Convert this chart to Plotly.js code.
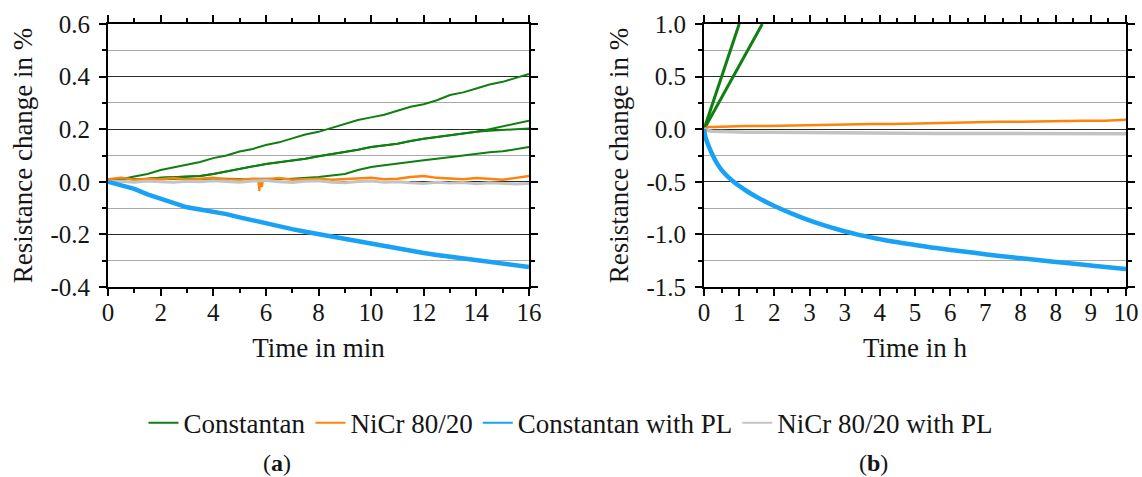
<!DOCTYPE html>
<html>
<head>
<meta charset="utf-8">
<script src="https://cdn.plot.ly/plotly-3.0.1.min.js"></script>
<style>html,body{margin:0;padding:0;background:#fff;}#chart{width:1142px;height:477px;}</style>
</head>
<body>
<div id="chart"></div>
<script>
// ---------- Panel (a): time in min ----------
const tA = [0,0.5,1,1.5,2,2.5,3,3.5,4,4.5,5,5.5,6,6.5,7,7.5,8,8.5,9,9.5,10,10.5,11,11.5,12,12.5,13,13.5,14,14.5,15,15.5,16];
const constA1 = [0.01,0.01,0.02,0.03,0.045,0.055,0.065,0.075,0.09,0.10,0.115,0.125,0.14,0.15,0.165,0.18,0.19,0.205,0.22,0.235,0.245,0.255,0.27,0.285,0.295,0.31,0.33,0.34,0.355,0.37,0.38,0.395,0.41];
const constA2 = [0.01,0.01,0.01,0.012,0.015,0.018,0.02,0.022,0.03,0.04,0.05,0.058,0.068,0.074,0.08,0.088,0.097,0.105,0.113,0.122,0.132,0.138,0.145,0.155,0.164,0.17,0.177,0.184,0.19,0.2,0.21,0.22,0.232];
const constA3 = [0.01,0.01,0.01,0.012,0.015,0.018,0.02,0.022,0.03,0.04,0.05,0.058,0.068,0.074,0.08,0.088,0.097,0.105,0.113,0.122,0.132,0.138,0.145,0.155,0.164,0.17,0.177,0.184,0.19,0.194,0.196,0.2,0.203];
const constA4 = [0.01,0.012,0.01,0.008,0.01,0.012,0.01,0.011,0.01,0.012,0.011,0.01,0.012,0.01,0.012,0.014,0.018,0.024,0.03,0.045,0.056,0.063,0.07,0.077,0.082,0.088,0.094,0.1,0.107,0.112,0.116,0.124,0.132];
const plA = [0,-0.012,-0.027,-0.048,-0.065,-0.08,-0.097,-0.105,-0.113,-0.123,-0.135,-0.147,-0.158,-0.168,-0.18,-0.19,-0.199,-0.208,-0.218,-0.228,-0.237,-0.246,-0.256,-0.263,-0.271,-0.278,-0.285,-0.29,-0.298,-0.305,-0.311,-0.317,-0.324];
const nicrA = [0.01,0.015,0.008,0.012,0.01,0.014,0.008,0.012,0.015,0.01,0.008,0.012,0.01,0.014,0.008,0.01,0.012,0.008,0.01,0.012,0.015,0.01,0.012,0.018,0.022,0.015,0.012,0.01,0.014,0.01,0.008,0.015,0.022];
const nicrSpikeX = [5.7,5.75,5.8,5.85,5.9];
const nicrSpikeY = [0.01,-0.035,0.005,-0.02,0.01];
const nicrPlA = [0,0.002,-0.002,0.003,0,-0.002,0.002,0,0.004,0.001,-0.002,0.003,0.005,0,-0.003,0.002,0.004,-0.002,-0.004,0.001,0.003,-0.002,0,-0.004,-0.006,-0.002,-0.005,-0.003,-0.007,-0.004,-0.006,-0.008,-0.006];
const yTickValsA = [-0.4,-0.2,0,0.2,0.4,0.6];
const yTickTextA = ["-0.4","-0.2","0.0","0.2","0.4","0.6"];

// ---------- Panel (b): time in h ----------
const tBg1 = [0,0.833];
const constB1 = [0,1.0];
const tBg2 = [0,1.38];
const constB2 = [0,1.0];
const tB = [0,0.03,0.07,0.14,0.22,0.3,0.46,0.7,1.0,1.25,1.64,2.04,2.43,2.83,3.22,3.62,4.17,4.4,5,5.5,6.1,6.7,7.3,7.96,8.6,9.27,10];
const plB = [0,-0.07,-0.12,-0.19,-0.26,-0.32,-0.41,-0.5,-0.585,-0.645,-0.725,-0.795,-0.857,-0.912,-0.958,-1.0,-1.045,-1.063,-1.1,-1.13,-1.16,-1.19,-1.218,-1.246,-1.272,-1.3,-1.33];
const tB2 = [0,0.1,0.2,0.5,1,1.5,2,2.5,3,3.5,4,4.5,5,5.5,6,6.5,7,7.5,8,8.5,9,9.5,10];
const nicrB = [0,0.02,0.02,0.025,0.03,0.03,0.035,0.035,0.04,0.045,0.05,0.05,0.055,0.06,0.06,0.065,0.07,0.07,0.075,0.075,0.08,0.08,0.09];
const nicrPlB = [0,-0.015,-0.02,-0.025,-0.03,-0.03,-0.032,-0.035,-0.035,-0.037,-0.038,-0.04,-0.04,-0.04,-0.04,-0.041,-0.042,-0.042,-0.042,-0.043,-0.043,-0.043,-0.044];
const xTickValsB = [0,50,100,150,200,250,300,350,400,450,500,550,600].map(m => m/60);
const xTickTextB = ["0","1","2","3","3","4","5","6","7","8","8","9","10"];
const yTickValsB = [-1.5,-1.0,-0.5,0,0.5,1.0];
const yTickTextB = ["-1.5","-1.0","-0.5","0.0","0.5","1.0"];

const seriesNames = ["Constantan","NiCr 80/20","Constantan with PL","NiCr 80/20 with PL"];
const seriesColors = ["#0f7f10","#ff820a","#19a2f5","#c3c3c3"];

function tr(x,y,ci,width,xa,ya,shape){
  return {x:x,y:y,type:"scatter",mode:"lines",name:seriesNames[ci],legendgroup:"g"+ci,showlegend:false,
    line:{color:seriesColors[ci],width:width,shape:shape||"linear",smoothing:0.8},xaxis:xa,yaxis:ya,hoverinfo:"skip"};
}
function legendEntry(ci){
  return {x:[null],y:[null],type:"scatter",mode:"lines",name:seriesNames[ci],legendgroup:"g"+ci,showlegend:true,
    line:{color:seriesColors[ci],width:2},xaxis:"x",yaxis:"y",hoverinfo:"skip"};
}

const data = [
  tr(tA,constA1,0,2,"x","y"),
  tr(tA,constA2,0,2,"x","y"),
  tr(tA,constA3,0,2,"x","y"),
  tr(tA,constA4,0,2,"x","y"),
  tr(tA,nicrA,1,2.5,"x","y"),
  tr(nicrSpikeX,nicrSpikeY,1,2,"x","y"),
  tr(tA,nicrPlA,3,3,"x","y"),
  tr(tA,plA,2,4.5,"x","y"),
  tr(tBg1,constB1,0,3,"x2","y2"),
  tr(tBg2,constB2,0,3,"x2","y2"),
  tr(tB2,nicrB,1,2.5,"x2","y2"),
  tr(tB2,nicrPlB,3,3.5,"x2","y2"),
  tr(tB,plB,2,4.5,"x2","y2","spline"),
  legendEntry(0), legendEntry(1), legendEntry(2), legendEntry(3)
];

const FAM = "Liberation Serif";
function F(size){ return {family:FAM, size:size, color:"#151515"}; }

function axis(extra){
  const base = {showline:true, linecolor:"#000", linewidth:2, mirror:"ticks", ticks:"outside",
    ticklen:7, tickwidth:2, tickcolor:"#000", zeroline:false, tickfont:F(25)};
  return Object.assign(base, extra);
}
function minorX(extra){
  return Object.assign({ticks:"outside", ticklen:4, tickwidth:2, tickcolor:"#000", showgrid:false}, extra);
}
function minorY(extra){
  return Object.assign({ticks:"outside", ticklen:4, tickwidth:2, tickcolor:"#000", showgrid:true, gridcolor:"#a8a8a8", gridwidth:1}, extra);
}

const layout = {
  width:1142, height:477, margin:{l:0,r:0,t:0,b:0},
  paper_bgcolor:"#fff", plot_bgcolor:"#fff", font:F(25), showlegend:true,
  xaxis: axis({domain:[0.0946,0.4632], range:[0,16], tickmode:"linear", dtick:2, tick0:0, showgrid:false, ticklabelstandoff:-5,
    minor:minorX({dtick:1, tick0:0}),
    title:{text:"Time in min", font:F(27), standoff:13}}),
  yaxis: axis({domain:[0.3983,0.9497], range:[-0.4,0.6], tickmode:"array", tickvals:yTickValsA, ticktext:yTickTextA,
    showgrid:true, gridcolor:"#2a2a2a", gridwidth:1, ticklabelstandoff:4,
    minor:minorY({tickmode:"linear", dtick:0.1, tick0:0}),
    title:{text:"Resistance change in %", font:F(27), standoff:10}}),
  xaxis2: axis({domain:[0.6165,0.986], range:[0,10], anchor:"y2", tickmode:"array",
    tickvals:xTickValsB, ticktext:xTickTextB, showgrid:false, ticklabelstandoff:-5,
    minor:minorX({tickmode:"linear", tick0:25/60, dtick:50/60}),
    title:{text:"Time in h", font:F(27), standoff:13}}),
  yaxis2: axis({domain:[0.3983,0.9497], range:[-1.5,1.0], anchor:"x2", tickmode:"array", tickvals:yTickValsB, ticktext:yTickTextB,
    showgrid:true, gridcolor:"#2a2a2a", gridwidth:1, ticklabelstandoff:4,
    minor:minorY({tickmode:"linear", dtick:0.25, tick0:0}),
    title:{text:"Resistance change in %", font:F(27), standoff:10}}),
  legend:{orientation:"h", x:0.5, xanchor:"center", y:0.113, yanchor:"middle", font:F(27),
    itemwidth:30, bgcolor:"rgba(0,0,0,0)", traceorder:"normal"},
  annotations:[
    {text:"(<b>a</b>)", xref:"paper", yref:"paper", x:0.2426, y:0.03, xanchor:"center", yanchor:"middle", showarrow:false, font:F(24)},
    {text:"(<b>b</b>)", xref:"paper", yref:"paper", x:0.765, y:0.03, xanchor:"center", yanchor:"middle", showarrow:false, font:F(24)}
  ]
};

Plotly.newPlot("chart", data, layout, {displayModeBar:false, staticPlot:true});
</script>
</body>
</html>
